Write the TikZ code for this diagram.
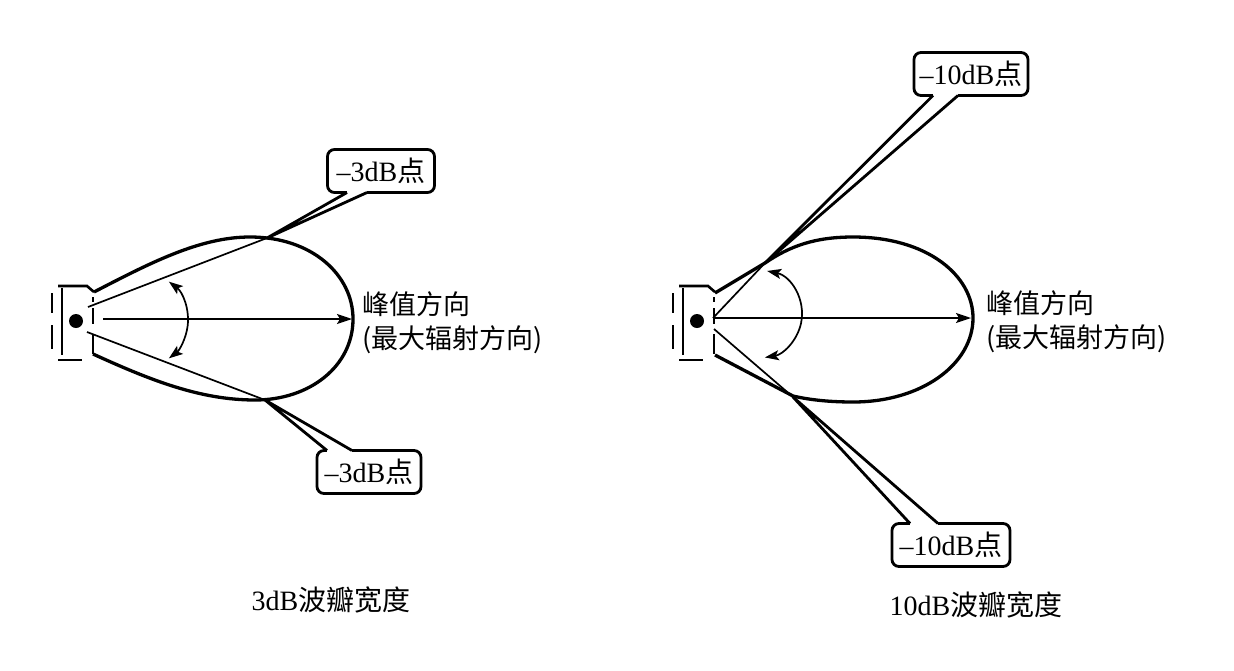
\documentclass[tikz,border=0pt]{standalone}
\usepackage{fontspec}
\setmainfont{Liberation Serif}
\newfontfamily\cjk{Noto Sans CJK SC}
\usetikzlibrary{arrows.meta, calc}

\begin{document}
\begin{tikzpicture}[x=1pt, y=-1pt]
% Styles
\tikzstyle{lobe} = [line width=3.3pt, line join=round]
\tikzstyle{thinline} = [line width=1.7pt]
\tikzstyle{case} = [line width=2.6pt]
\tikzstyle{dbbox} = [rectangle, rounded corners=7pt, draw=black, line width=2.8pt, minimum height=43pt, inner sep=2pt, outer sep=0pt, text centered, font=\fontsize{28}{30}\selectfont]
\tikzstyle{tail} = [line width=2.8pt, line join=round]
\tikzstyle{cover} = [white, line width=4pt]
\tikzstyle{peaktext} = [anchor=west, align=left, inner sep=0pt, font=\cjk\fontsize{27}{34}\selectfont]
\tikzstyle{captiontext} = [inner sep=0pt, font=\fontsize{28}{30}\selectfont]
\tikzstyle{arrow} = [thinline, -{Stealth[length=15pt, width=10pt, inset=3pt]}]
\tikzstyle{spread} = [thinline, {Stealth[length=14pt, width=10pt, inset=3pt]}-{Stealth[length=14pt, width=10pt, inset=3pt]}]

\useasboundingbox (0,0) rectangle (1234,670);
\fill[white] (0,0) rectangle (1234,670);

% speakers
\foreach \dx in {0,621}{
  \begin{scope}[shift={(\dx,0)}]
    \draw[case] (52,293) -- (52,313) (52,325) -- (52,349);
    \draw[case] (62,288) -- (62,355);
    \draw[case] (58,286) -- (87,286) -- (94,292);
    \draw[case] (93,297) -- (93,302) (93,308) -- (93,324) (93,334) -- (93,354);
    \draw[case] (58,360) -- (82,360);
    \fill (76,321) circle[radius=7];
  \end{scope}
}

% 3dB beam
\coordinate (l_src_top) at (88,307);
\coordinate (l_src_bot) at (87,332);
\coordinate (l_pt_top) at (267,238);
\coordinate (l_pt_bot) at (265,400);
\draw[lobe] (94,292) .. controls (150,263) and (200,237) .. (250,237)
  .. controls (312,237) and (353,275) .. (353,319)
  .. controls (353,366) and (310,400) .. (255,400)
  .. controls (200,400) and (150,380) .. (93,354);
\draw[thinline] (l_src_top) -- (l_pt_top);
\draw[thinline] (l_src_bot) -- (l_pt_bot);
\draw[arrow] (103,319) -- (352,319);
\draw[spread] (140,320) ++(-53:48) arc[start angle=-53, end angle=53, radius=48];

\node (l_db_top) [dbbox, minimum width=107pt] at (381,171) {–3dB{\cjk 点}};
\node (l_db_bot) [dbbox, minimum width=104pt] at (369,472) {–3dB{\cjk 点}};
\draw[cover] ($(l_db_top.south)+(-34,0)$) -- ($(l_db_top.south)+(-14,0)$);
\draw[tail] ($(l_db_top.south)+(-34,0)$) -- (l_pt_top) -- ($(l_db_top.south)+(-14,0)$);
\draw[cover] ($(l_db_bot.north)+(-42,0)$) -- ($(l_db_bot.north)+(-17,0)$);
\draw[tail] ($(l_db_bot.north)+(-42,0)$) -- (l_pt_bot) -- ($(l_db_bot.north)+(-17,0)$);

\node (l_peak) [peaktext] at (362,323) {峰值方向\\(最大辐射方向)};
\node (l_caption) [captiontext] at (331,600) {3dB{\cjk 波瓣宽度}};

% 10dB beam
\coordinate (r_src_top) at (713,318);
\coordinate (r_src_bot) at (714,329);
\coordinate (r_pt_top) at (765,263);
\coordinate (r_pt_bot) at (793,397);
\draw[lobe] (715,293) -- (765,263) .. controls (790,246) and (815,237) .. (853,237)
  .. controls (928,237) and (973,276) .. (973,318)
  .. controls (973,364) and (922,402) .. (853,402)
  .. controls (825,402) and (806,399) .. (793,396) -- (715,355);
\draw[thinline] (r_src_top) -- (r_pt_top);
\draw[thinline] (r_src_bot) -- (r_pt_bot);
\draw[arrow] (713,318) -- (971,318);
\draw[spread] (758,314) ++(-78:44) arc[start angle=-78, end angle=81, radius=44];

\node (r_db_top) [dbbox, minimum width=114pt] at (971,74) {–10dB{\cjk 点}};
\node (r_db_bot) [dbbox, minimum width=118pt] at (951,545) {–10dB{\cjk 点}};
\draw[cover] ($(r_db_top.south)+(-38,0)$) -- ($(r_db_top.south)+(-13,0)$);
\draw[tail] ($(r_db_top.south)+(-38,0)$) -- (r_pt_top) -- ($(r_db_top.south)+(-13,0)$);
\draw[cover] ($(r_db_bot.north)+(-41,0)$) -- ($(r_db_bot.north)+(-13,0)$);
\draw[tail] ($(r_db_bot.north)+(-41,0)$) -- (r_pt_bot) -- ($(r_db_bot.north)+(-13,0)$);

\node (r_peak) [peaktext] at (986,322) {峰值方向\\(最大辐射方向)};
\node (r_caption) [captiontext] at (976,605) {10dB{\cjk 波瓣宽度}};

\end{tikzpicture}
\end{document}
